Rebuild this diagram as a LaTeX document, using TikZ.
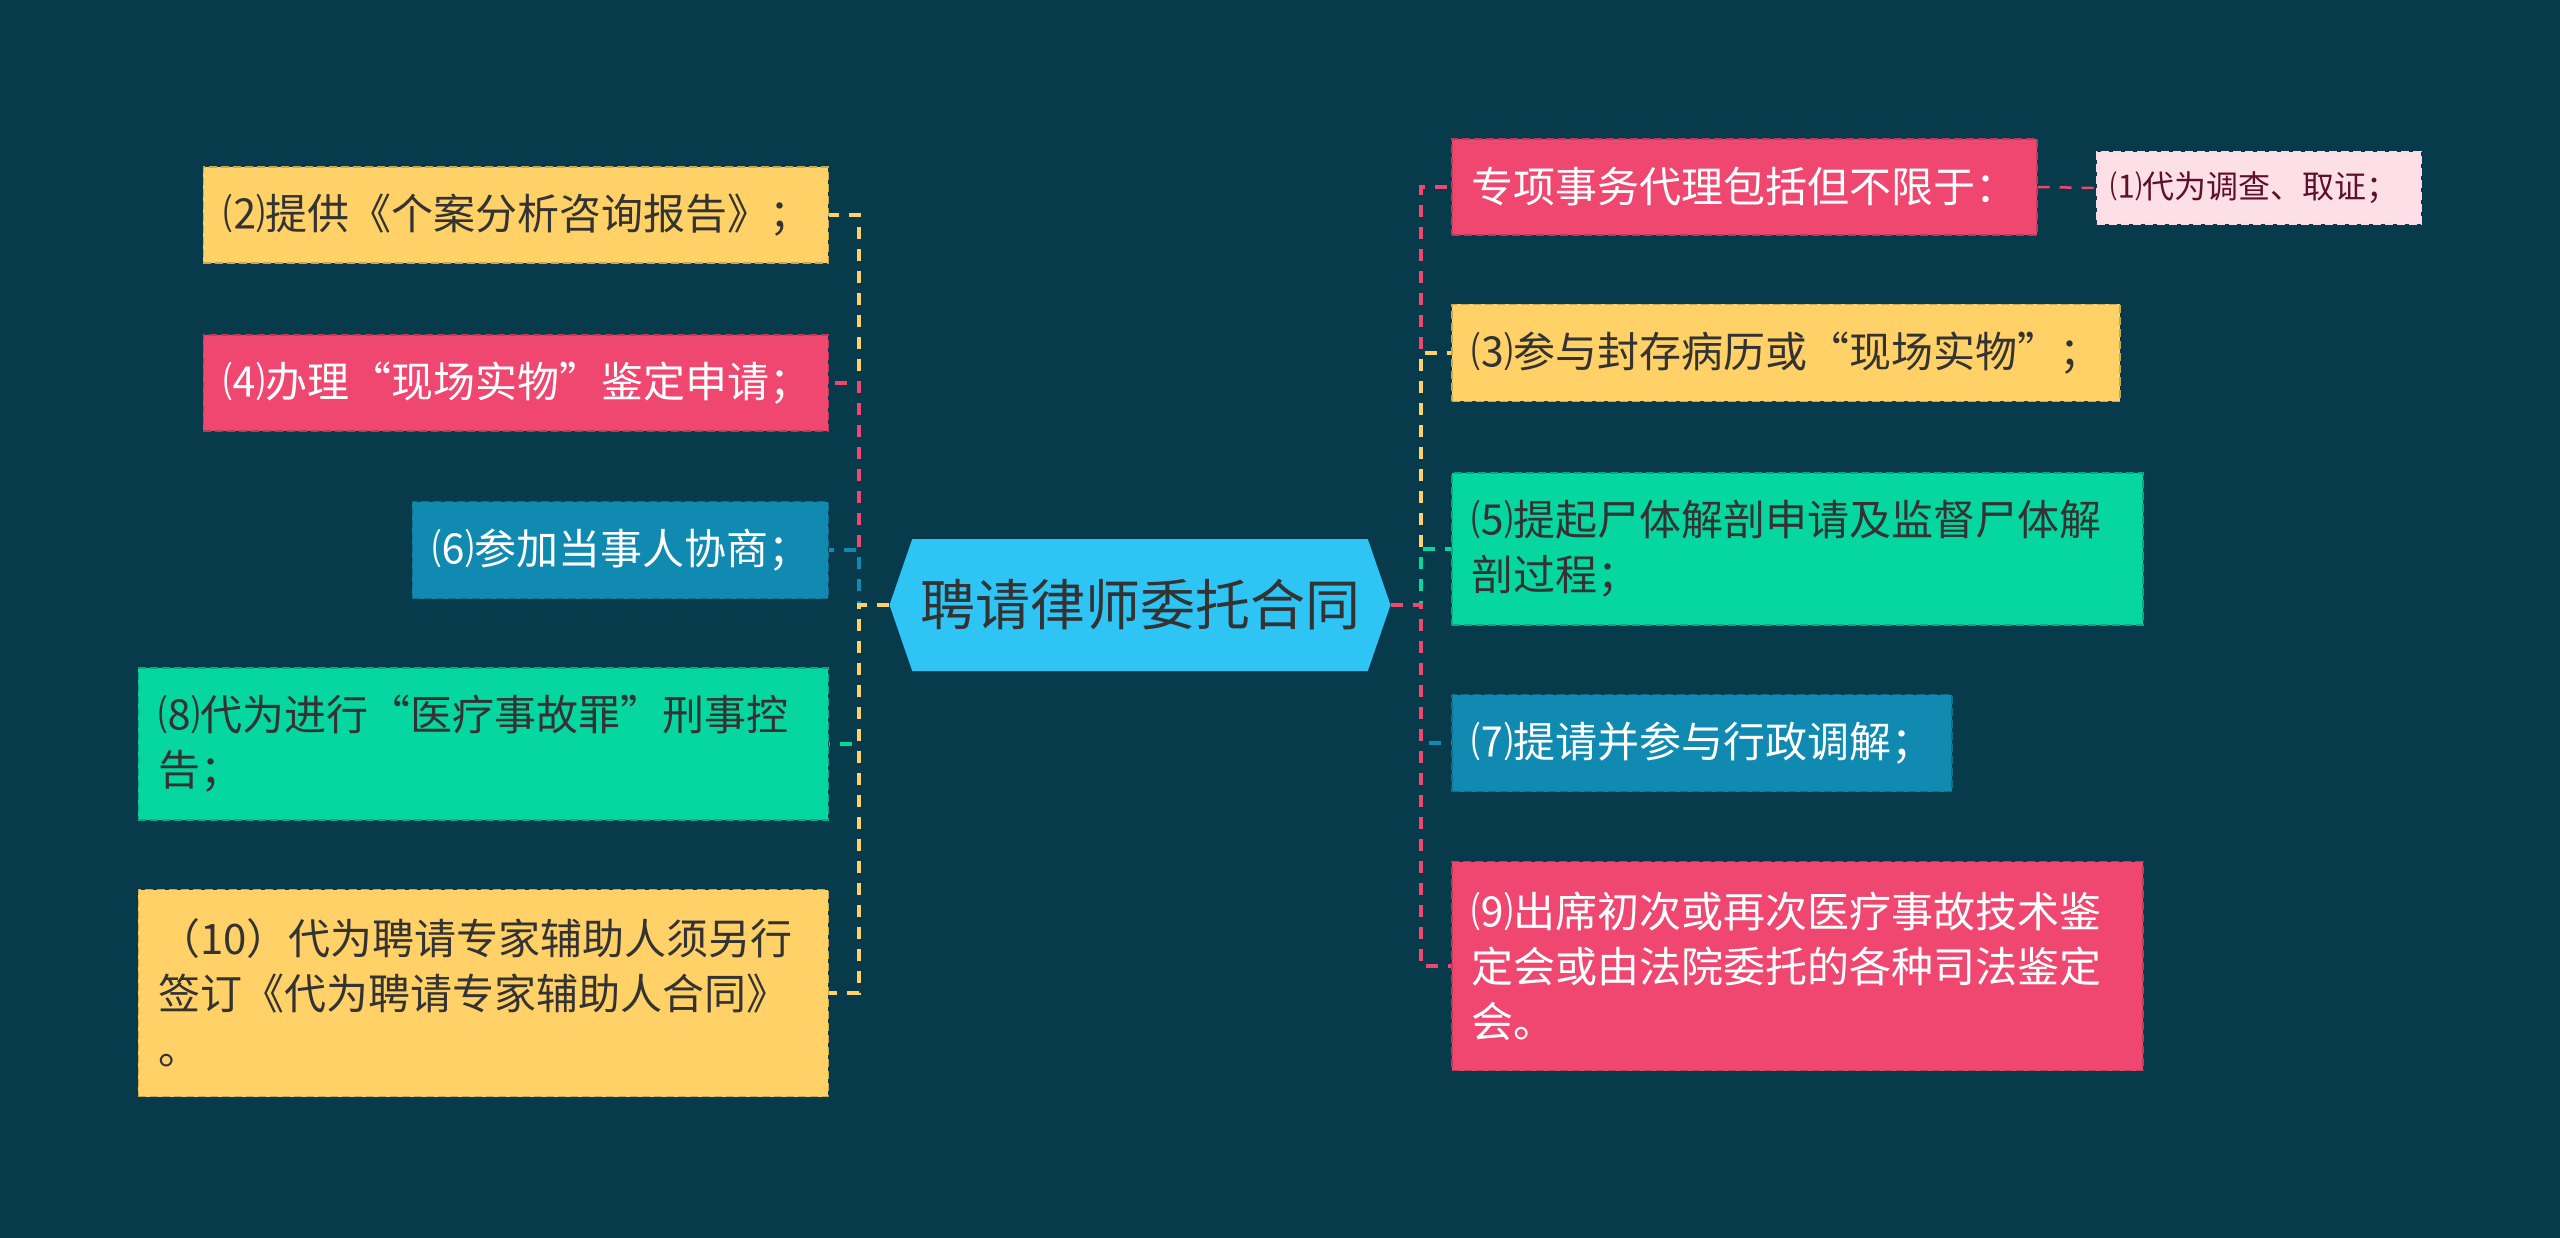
\documentclass[tikz,border=0pt]{standalone}
\usepackage{fontspec}
\setmainfont{Noto Sans CJK SC}
\usetikzlibrary{shapes.symbols}

\definecolor{bgcol}{HTML}{073B4C}
\definecolor{yel}{HTML}{FFD166}
\definecolor{pnk}{HTML}{EF476F}
\definecolor{grn}{HTML}{06D6A0}
\definecolor{blu}{HTML}{118AB2}
\definecolor{hubcol}{HTML}{2EC4F4}
\definecolor{rose}{HTML}{FCDFE7}
\definecolor{maroon}{HTML}{5E1027}
\definecolor{ink}{HTML}{333333}

\tikzset{
  box/.style={rectangle, inner xsep=20pt, inner ysep=0pt, align=left,
    line width=1.5pt, dash pattern=on 8pt off 4pt,
    font=\fontsize{42}{55}\selectfont},
  ybox/.style={box, fill=yel, draw=yel!80!black, text=ink},
  pbox/.style={box, fill=pnk, draw=pnk!80!black, text=white},
  gbox/.style={box, fill=grn, draw=grn!80!black, text=ink},
  bbox/.style={box, fill=blu, draw=blu!80!black, text=white},
  link/.style={draw=#1, line width=3.5pt, dash pattern=on 12pt off 10pt}
}

\begin{document}
\begin{tikzpicture}[x=1pt, y=-1pt]
% --- Background ---
\fill[bgcol] (0,0) rectangle (2560,1238);
\useasboundingbox (0,0) rectangle (2560,1238);

% --- Central topic ---
\node[signal, signal to=east and west, signal pointer angle=142, fill=hubcol,
  minimum width=501pt, minimum height=132pt, inner sep=0pt, text=ink,
  font=\fontsize{55}{60}\selectfont] (hub) at (1140,605) {聘请律师委托合同};

% bus lines of the two sides
\coordinate (lbus) at (859,0);
\coordinate (rbus) at (1421,0);

% --- Left branches ---
\node[ybox, anchor=east, text width=585pt, minimum height=96pt] (n2) at (829,215) {⑵提供《个案分析咨询报告》；};
\node[pbox, anchor=east, text width=585pt, minimum height=96pt] (n4) at (829,383) {⑷办理“现场实物”鉴定申请；};
\node[bbox, anchor=east, text width=376pt, minimum height=97pt] (n6) at (829,550) {⑹参加当事人协商；};
\node[gbox, anchor=east, text width=650pt, minimum height=152pt] (n8) at (829,744) {⑻代为进行“医疗事故罪”刑事控\\告；};
\node[ybox, anchor=east, text width=650pt, minimum height=207pt] (n10) at (829,993) {（10）代为聘请专家辅助人须另行\\签订《代为聘请专家辅助人合同》\\。};

% --- Right branches ---
\node[pbox, anchor=west, text width=545pt, minimum height=96pt] (r0) at (1451,187) {专项事务代理包括但不限于：};
\node[ybox, anchor=west, text width=628pt, minimum height=97pt] (n3) at (1451,353) {⑶参与封存病历或“现场实物”；};
\node[gbox, anchor=west, text width=651pt, minimum height=152pt] (n5) at (1451,549) {⑸提起尸体解剖申请及监督尸体解\\剖过程；};
\node[bbox, anchor=west, text width=460pt, minimum height=97pt] (n7) at (1451,743) {⑺提请并参与行政调解；};
\node[pbox, anchor=west, text width=651pt, minimum height=209pt] (n9) at (1451,966) {⑼出席初次或再次医疗事故技术鉴\\定会或由法院委托的各种司法鉴定\\会。};

% sub item
\node[box, fill=rose, draw=white!80!pnk, text=maroon, inner xsep=14pt,
  text width=296pt, minimum height=72pt, anchor=west,
  font=\fontsize{32}{40}\selectfont] (n1) at (2096,188) {⑴代为调查、取证；};

% --- Connectors ---
\foreach \n/\c in {n2/yel, n4/pnk, n6/blu, n8/grn, n10/yel}
    \draw[link=\c] (hub.west) -- (hub.west -| lbus) |- (\n.east);
\foreach \n/\c in {r0/pnk, n3/yel, n5/grn, n7/blu, n9/pnk}
    \draw[link=\c] (hub.east) -- (hub.east -| rbus) |- (\n.west);
\draw[link=pnk, line width=2.5pt] (r0.east) -- (n1.west);
\end{tikzpicture}
\end{document}
